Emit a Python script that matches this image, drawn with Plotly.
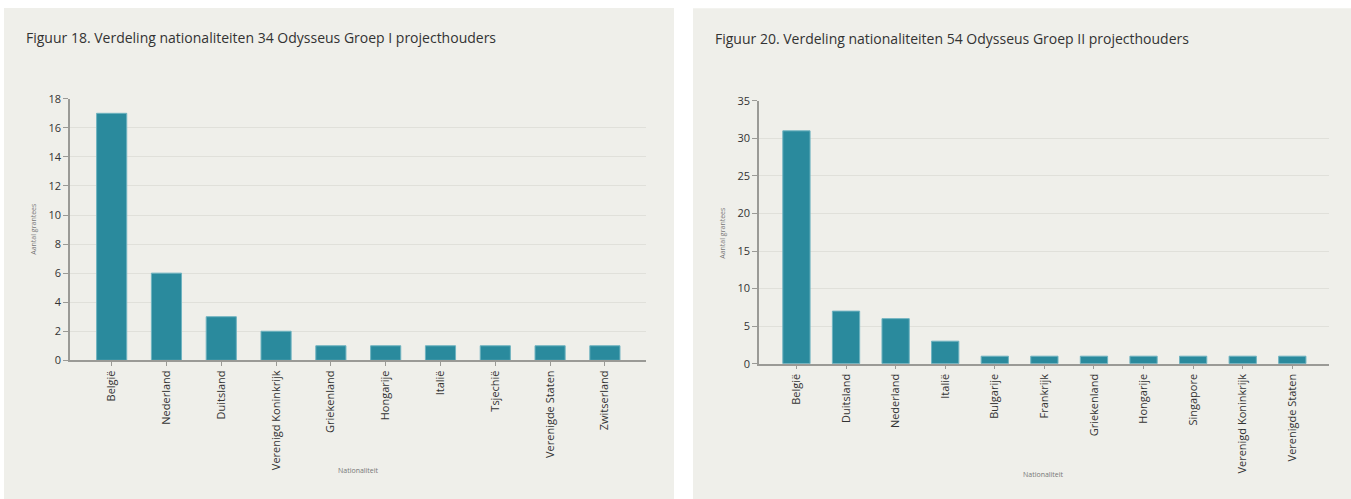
import plotly.graph_objects as go

W, H = 1351, 516

cats1 = ["België", "Nederland", "Duitsland", "Verenigd Koninkrijk", "Griekenland",
         "Hongarije", "Italië", "Tsjechië", "Verenigde Staten", "Zwitserland"]
vals1 = [17, 6, 3, 2, 1, 1, 1, 1, 1, 1]

cats2 = ["België", "Duitsland", "Nederland", "Italië", "Bulgarije", "Frankrijk",
         "Griekenland", "Hongarije", "Singapore", "Verenigd Koninkrijk", "Verenigde Staten"]
vals2 = [31, 7, 6, 3, 1, 1, 1, 1, 1, 1, 1]

title1 = "Figuur 18. Verdeling nationaliteiten 34 Odysseus Groep I projecthouders"
title2 = "Figuur 20. Verdeling nationaliteiten 54 Odysseus Groep II projecthouders"
ytitle = "Aantal grantees"
xtitle = "Nationaliteit"

BAR = "#2a8a9d"
BG = "#efefea"
FONT = "Open Sans"

# screen offset/scale observed in the capture
OFF, SC = 7.7, 0.969

def px(x):
    return x / W

def py(y):
    return 1 - ((y - OFF) / SC) / H

fig = go.Figure()
fig.add_trace(go.Bar(x=cats1, y=vals1, xaxis="x", yaxis="y",
                     marker=dict(color=BAR, line=dict(color="#6fb3c0", width=1)),
                     hoverinfo="x+y"))
fig.add_trace(go.Bar(x=cats2, y=vals2, xaxis="x2", yaxis="y2",
                     marker=dict(color=BAR, line=dict(color="#6fb3c0", width=1)),
                     hoverinfo="x+y"))

xcommon = dict(type="category", showgrid=False, zeroline=False, showline=True,
               linecolor="#9a9a96", linewidth=1.5, ticks="outside", ticklen=4,
               tickcolor="#9a9a96", tickangle=-90,
               tickfont=dict(family=FONT, size=11, color="#333333"), fixedrange=True)
ycommon = dict(showgrid=True, gridcolor="#e0e0da", gridwidth=1, zeroline=False,
               showline=True, linecolor="#9a9a96", linewidth=1.5, ticks="outside",
               ticklen=5, tickcolor="#9a9a96",
               tickfont=dict(family=FONT, size=11, color="#333333"), fixedrange=True)

fig.update_layout(
    width=W, height=H,
    margin=dict(l=0, r=0, t=0, b=0),
    paper_bgcolor="white",
    plot_bgcolor="rgba(0,0,0,0)",
    showlegend=False,
    bargap=0.45,
    xaxis=dict(xcommon, domain=[px(70), px(646)], range=[-0.76, 9.75], anchor="y"),
    yaxis=dict(ycommon, domain=[py(359.3), py(98.3)], range=[0, 18], dtick=2, anchor="x"),
    xaxis2=dict(xcommon, domain=[px(759), px(1329)], range=[-0.755, 10.74], anchor="y2"),
    yaxis2=dict(ycommon, domain=[py(362.7), py(100.3)], range=[0, 35], dtick=5, anchor="x2"),
    shapes=[
        dict(type="rect", xref="paper", yref="paper", x0=px(4), x1=px(674), y0=-0.05,
             y1=min(py(7), 1.0), fillcolor=BG, line=dict(width=0), layer="below"),
        dict(type="rect", xref="paper", yref="paper", x0=px(693), x1=1, y0=-0.05,
             y1=min(py(8), 1.0), fillcolor=BG, line=dict(width=0), layer="below"),
    ],
    annotations=[
        dict(text=title1, xref="paper", yref="paper", x=px(24), y=py(37), xanchor="left",
             yanchor="middle", showarrow=False, font=dict(family=FONT, size=14, color="#333333")),
        dict(text=title2, xref="paper", yref="paper", x=px(713), y=py(38), xanchor="left",
             yanchor="middle", showarrow=False, font=dict(family=FONT, size=14, color="#333333")),
        dict(text=ytitle, xref="paper", yref="paper", x=px(34), y=py(228), textangle=-90,
             xanchor="center", yanchor="middle", showarrow=False,
             font=dict(family=FONT, size=7, color="#777777")),
        dict(text=ytitle, xref="paper", yref="paper", x=px(723), y=py(232), textangle=-90,
             xanchor="center", yanchor="middle", showarrow=False,
             font=dict(family=FONT, size=7, color="#777777")),
        dict(text=xtitle, xref="paper", yref="paper", x=px(358), y=py(469),
             xanchor="center", yanchor="middle", showarrow=False,
             font=dict(family=FONT, size=7, color="#777777")),
        dict(text=xtitle, xref="paper", yref="paper", x=px(1043), y=py(473),
             xanchor="center", yanchor="middle", showarrow=False,
             font=dict(family=FONT, size=7, color="#777777")),
    ],
)

css_js = (
    "var s=document.createElement('style');"
    "s.textContent='html,body{margin:0!important;padding:0!important;overflow:hidden;}"
    "body{background:linear-gradient(to right,#fff 0,#fff 4px," + BG + " 4px," + BG + " 674px,"
    "#fff 674px,#fff 693px," + BG + " 693px," + BG + " 100%);}';"
    "document.head.appendChild(s);"
)

fig.write_html("out.html", config={"displayModeBar": False, "responsive": False},
               post_script=css_js)
